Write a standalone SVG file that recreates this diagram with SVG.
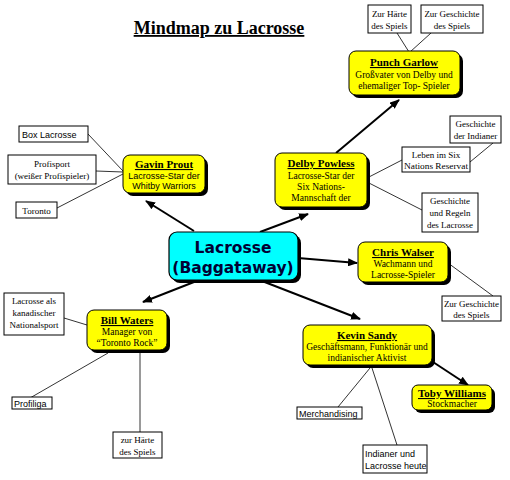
<svg xmlns="http://www.w3.org/2000/svg" width="510" height="480" viewBox="0 0 510 480">
<defs>
<marker id="ah" markerWidth="10" markerHeight="8" refX="9" refY="4" orient="auto" markerUnits="userSpaceOnUse">
<path d="M0,0 L10,4 L0,8 z" fill="#000"/>
</marker>
</defs>
<style>
.node{fill:#ffff00;stroke:#000;stroke-width:1}
.center{fill:#00ffff;stroke:#000;stroke-width:1.2}
.sh{fill:#000}
.note{fill:#fff;stroke:#000;stroke-width:1}
.thin{stroke:#000;stroke-width:0.8;fill:none}
.arr{stroke:#000;stroke-width:2;fill:none;marker-end:url(#ah)}
.hd{font-family:"Liberation Serif",serif;font-weight:bold;font-size:11px;text-decoration:underline;text-anchor:middle}
.sb{font-family:"Liberation Serif",serif;font-size:9.5px;text-anchor:middle}
.ss{font-family:"Liberation Sans",sans-serif;font-size:9px;text-anchor:middle}
.ns{font-family:"Liberation Serif",serif;font-size:9px;text-anchor:middle}
.nsa{font-family:"Liberation Sans",sans-serif;font-size:9px}
</style>
<rect width="510" height="480" fill="#fff"/>
<text x="219" y="34" font-family="Liberation Serif,serif" font-weight="bold" font-size="18" text-anchor="middle" text-decoration="underline">Mindmap zu Lacrosse</text>

<g id="connectors">
<line class="arr" x1="336" y1="153" x2="399" y2="100"/>
<line class="arr" x1="260" y1="232" x2="308" y2="214"/>
<line class="arr" x1="194" y1="231" x2="146" y2="201"/>
<line class="arr" x1="298" y1="258" x2="357" y2="263"/>
<line class="arr" x1="194" y1="282" x2="143" y2="302"/>
<line class="arr" x1="262" y1="281" x2="360" y2="319"/>
<line class="arr" x1="433" y1="362" x2="468" y2="385"/>
<line class="thin" x1="397" y1="33" x2="409" y2="52"/>
<line class="thin" x1="431" y1="33" x2="410" y2="52"/>
<line class="thin" x1="88" y1="134" x2="123" y2="171"/>
<line class="thin" x1="96" y1="171" x2="123" y2="172"/>
<line class="thin" x1="57" y1="208" x2="123" y2="174"/>
<line class="thin" x1="367" y1="178" x2="402" y2="160"/>
<line class="thin" x1="470" y1="162" x2="493" y2="143"/>
<line class="thin" x1="367" y1="182" x2="422" y2="210"/>
<line class="thin" x1="448" y1="263" x2="493" y2="296"/>
<line class="thin" x1="64" y1="318" x2="87" y2="325"/>
<line class="thin" x1="108" y1="353" x2="30" y2="398"/>
<line class="thin" x1="140" y1="351" x2="140" y2="432"/>
<line class="thin" x1="370" y1="368" x2="338" y2="407"/>
<line class="thin" x1="372" y1="368" x2="397" y2="445"/>
</g>

<g id="center">
<rect class="sh" x="172" y="235" width="129" height="48" rx="8"/>
<rect class="center" x="169" y="232" width="129" height="48" rx="8"/>
<text x="233" y="253" font-family="DejaVu Sans,sans-serif" font-weight="bold" font-size="15.5" text-anchor="middle" fill="#000033">Lacrosse</text>
<text x="233" y="273" font-family="DejaVu Sans,sans-serif" font-weight="bold" font-size="15.5" text-anchor="middle" fill="#000033">(Baggataway)</text>
</g>

<g id="punch">
<rect class="sh" x="352" y="54" width="111" height="44" rx="7"/>
<rect class="node" x="349" y="51" width="111" height="44" rx="7"/>
<text class="hd" x="404" y="66">Punch Garlow</text>
<text class="sb" x="404" y="78">Großvater von Delby und</text>
<text class="sb" x="404" y="89">ehemaliger Top- Spieler</text>
</g>

<g id="gavin">
<rect class="sh" x="126" y="158" width="82" height="38" rx="7"/>
<rect class="node" x="123" y="155" width="82" height="38" rx="7"/>
<text class="hd" x="164" y="168">Gavin Prout</text>
<text class="ss" x="164" y="179">Lacrosse-Star der</text>
<text class="ss" x="164" y="189">Whitby Warriors</text>
</g>

<g id="delby">
<rect class="sh" x="278" y="156" width="92" height="54" rx="7"/>
<rect class="node" x="275" y="153" width="92" height="54" rx="7"/>
<text class="hd" x="321" y="167">Delby Powless</text>
<text class="sb" x="321" y="179">Lacrosse-Star der</text>
<text class="sb" x="321" y="190">Six Nations-</text>
<text class="sb" x="321" y="201">Mannschaft der</text>
</g>

<g id="chris">
<rect class="sh" x="361" y="245" width="90" height="40" rx="7"/>
<rect class="node" x="358" y="242" width="90" height="40" rx="7"/>
<text class="hd" x="403" y="256">Chris Walser</text>
<text class="sb" x="403" y="267">Wachmann und</text>
<text class="sb" x="403" y="278">Lacrosse-Spieler</text>
</g>

<g id="bill">
<rect class="sh" x="90" y="313" width="80" height="40" rx="7"/>
<rect class="node" x="87" y="310" width="80" height="40" rx="7"/>
<text class="hd" x="127" y="324">Bill Waters</text>
<text class="sb" x="127" y="335">Manager von</text>
<text class="sb" x="127" y="346">“Toronto Rock”</text>
</g>

<g id="kevin">
<rect class="sh" x="306" y="328" width="129" height="40" rx="7"/>
<rect class="node" x="303" y="325" width="129" height="40" rx="7"/>
<text class="hd" x="367" y="339">Kevin Sandy</text>
<text class="sb" x="367" y="350">Geschäftsmann, Funktionär und</text>
<text class="sb" x="367" y="361">indianischer Aktivist</text>
</g>

<g id="toby">
<rect class="sh" x="415" y="388" width="80" height="25" rx="6"/>
<rect class="node" x="412" y="385" width="80" height="25" rx="6"/>
<text class="hd" x="452" y="397">Toby Williams</text>
<text class="sb" x="452" y="407">Stockmacher</text>
</g>

<g id="n-haerte1"><rect class="note" x="368" y="5" width="43" height="28"/>
<text class="ns" x="389.5" y="17">Zur Härte</text><text class="ns" x="389.5" y="29">des Spiels</text></g>
<g id="n-gesch1"><rect class="note" x="421" y="5" width="62" height="28"/>
<text class="ns" x="452" y="17">Zur Geschichte</text><text class="ns" x="452" y="29">des Spiels</text></g>
<g id="n-box"><rect class="note" x="19" y="126" width="69" height="16"/>
<text class="nsa" x="22" y="137.5">Box Lacrosse</text></g>
<g id="n-profi"><rect class="note" x="8" y="155" width="88" height="29"/>
<text class="ns" x="52" y="167">Profisport</text><text class="ns" x="52" y="179">(weißer Profispieler)</text></g>
<g id="n-toronto"><rect class="note" x="16" y="202" width="41" height="16"/>
<text class="ns" x="36.5" y="213.5">Toronto</text></g>
<g id="n-indianer"><rect class="note" x="450" y="116" width="51" height="27"/>
<text class="ns" x="475.5" y="127">Geschichte</text><text class="ns" x="475.5" y="139">der Indianer</text></g>
<g id="n-leben"><rect class="note" x="402" y="147" width="68" height="25"/>
<text class="ns" x="436" y="158">Leben im Six</text><text class="ns" x="436" y="169" textLength="64" lengthAdjust="spacingAndGlyphs">Nations Reservat</text></g>
<g id="n-regeln"><rect class="note" x="422" y="193" width="56" height="39"/>
<text class="ns" x="450" y="204">Geschichte</text><text class="ns" x="450" y="216">und Regeln</text><text class="ns" x="450" y="228">des Lacrosse</text></g>
<g id="n-gesch2"><rect class="note" x="442" y="296" width="59" height="25"/>
<text class="ns" x="471.5" y="307">Zur Geschichte</text><text class="ns" x="471.5" y="318">des Spiels</text></g>
<g id="n-national"><rect class="note" x="4" y="293" width="60" height="42"/>
<text class="ns" x="34" y="304">Lacrosse als</text><text class="ns" x="34" y="316">kanadischer</text><text class="ns" x="34" y="328">Nationalsport</text></g>
<g id="n-profiliga"><rect class="note" x="12" y="397" width="40" height="12"/>
<text class="nsa" x="14" y="406.5">Profiliga</text></g>
<g id="n-haerte2"><rect class="note" x="113" y="432" width="49" height="26"/>
<text class="ns" x="137.5" y="443">zur Härte</text><text class="ns" x="137.5" y="455">des Spiels</text></g>
<g id="n-merch"><rect class="note" x="297" y="407" width="65" height="12"/>
<text class="nsa" x="299" y="416.5">Merchandising</text></g>
<g id="n-heute"><rect class="note" x="363" y="445" width="64" height="28"/>
<text class="nsa" x="365" y="457">Indianer und</text><text class="nsa" x="365" y="469">Lacrosse heute</text></g>
</svg>
